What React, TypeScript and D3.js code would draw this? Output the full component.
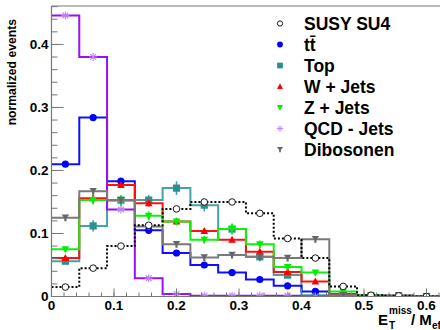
import * as d3 from 'd3';

// bin width of the histograms (18 bins on 0..0.8)
const binWidth = 0.8 / 18;

// normalized events per bin
const susyValues = [0.015, 0.045, 0.080, 0.113, 0.139, 0.150, 0.150, 0.132, 0.092, 0.061, 0.016, 0.002, 0.001, 0];
const ttbarValues = [0.210, 0.284, 0.183, 0.105, 0.069, 0.050, 0.038, 0.027, 0.017, 0.008, 0.003, 0.001, 0, 0];
const topValues = [0.056, 0.112, 0.153, 0.153, 0.172, 0.145, 0.107, 0.063, 0.034, 0.002, 0.001, 0, 0, 0];
const wJetsValues = [0.061, 0.156, 0.177, 0.148, 0.119, 0.104, 0.090, 0.071, 0.039, 0.024, 0.004, 0.001, 0, 0];
const zJetsValues = [0.075, 0.153, 0.152, 0.128, 0.119, 0.090, 0.107, 0.083, 0.047, 0.038, 0.008, 0.002, 0, 0];
const qcdValues = [0.446, 0.380, 0.138, 0.029, 0.004, 0.001, 0.001, 0.001, 0.001, 0, 0, 0, 0, 0];
const dibosonValues = [0.125, 0.167, 0.153, 0.111, 0.083, 0.062, 0.066, 0.063, 0.061, 0.091, 0.002, 0.001, 0.002, 0];

// statistical errors where they stick out of the markers
const topErrors = [0.004, 0.009, 0.008, 0.008, 0.011, 0.010, 0.009, 0.007, 0.005, 0.002, 0, 0, 0, 0];
const zJetsErrors = [0.004, 0.007, 0.009, 0.007, 0.006, 0.006, 0.008, 0.006, 0.005, 0.004, 0.002, 0.001, 0, 0];
const wJetsErrors = [0.003, 0.005, 0.005, 0.005, 0.005, 0.004, 0.004, 0.004, 0.003, 0.003, 0.001, 0, 0, 0];

const legendLabels = ['SUSY SU4', 'tt\u0304', 'Top', 'W + Jets', 'Z + Jets', 'QCD - Jets', 'Dibosonen'];
const yTickValues = [0, 0.1, 0.2, 0.3, 0.4];
const xTickValues = [0, 0.1, 0.2, 0.3, 0.4, 0.5, 0.6];

const FONT = '"Liberation Sans", Arial, Helvetica, sans-serif';

type Series = {
  label: string;
  values: number[];
  errors?: number[];
  line: string;
  marker: string;
  shape: string;
  dash?: string;
};

const series: Series[] = [
  { label: legendLabels[0], values: susyValues, line: '#000', marker: '#000', shape: 'open', dash: '2,2' },
  { label: legendLabels[1], values: ttbarValues, line: '#1010ff', marker: '#0000ff', shape: 'circle' },
  { label: legendLabels[2], values: topValues, errors: topErrors, line: '#45a3a5', marker: '#2f8f90', shape: 'square' },
  { label: legendLabels[3], values: wJetsValues, errors: wJetsErrors, line: '#ff1010', marker: '#ff0000', shape: 'up' },
  { label: legendLabels[4], values: zJetsValues, errors: zJetsErrors, line: '#10f010', marker: '#00ee00', shape: 'down' },
  { label: legendLabels[5], values: qcdValues, line: '#9a10f0', marker: '#c07cff', shape: 'star' },
  { label: legendLabels[6], values: dibosonValues, line: '#7a7a7a', marker: '#666', shape: 'funnel' },
];

// drawing order inside the frame
const drawOrder = [2, 1, 3, 4, 5, 6, 0];

const Marker = ({ shape, color, cx, cy, s = 1 }: { shape: string; color: string; cx: number; cy: number; s?: number }) => {
  const t = `translate(${cx},${cy}) scale(${s})`;
  if (shape === 'open') return <circle cx={cx} cy={cy} r={3.3 * s} fill="#fff" stroke="#000" strokeWidth={0.9} />;
  if (shape === 'circle') return <circle cx={cx} cy={cy} r={3.6 * s} fill={color} />;
  if (shape === 'square') return <rect x={cx - 3.6 * s} y={cy - 3.6 * s} width={7.2 * s} height={7.2 * s} fill={color} />;
  if (shape === 'up') return <path transform={t} d="M0,-4 L3.8,3 L-3.8,3 Z" fill={color} />;
  if (shape === 'down') return <path transform={t} d="M0,4 L3.8,-3 L-3.8,-3 Z" fill={color} />;
  if (shape === 'funnel') return <path transform={t} d="M-3.8,-3.2 L3.8,-3.2 L1.1,0.5 L1.1,3.5 L-1.1,3.5 L-1.1,0.5 Z" fill={color} />;
  // asterisk
  return (
    <g transform={t} stroke={color} strokeWidth={1.1}>
      <line x1={-4} y1={0} x2={4} y2={0} />
      <line x1={0} y1={-4} x2={0} y2={4} />
      <line x1={-2.9} y1={-2.9} x2={2.9} y2={2.9} />
      <line x1={-2.9} y1={2.9} x2={2.9} y2={-2.9} />
    </g>
  );
};

const App = () => {
  const width = 440;
  const height = 330;
  const left = 51.5;
  const top = 6;
  const bottom = 296.5;

  const x = d3.scaleLinear().domain([0, 0.63]).range([left, left + 625 * 0.63]);
  const y = d3.scaleLinear().domain([0, 0.461]).range([bottom, top]);

  const stepLine = d3.line<[number, number]>().x(d => x(d[0])).y(d => y(d[1]));

  const histPath = (values: number[]) => {
    const pts: [number, number][] = [];
    values.forEach((v, i) => {
      pts.push([i * binWidth, v]);
      pts.push([(i + 1) * binWidth, v]);
    });
    pts.push([values.length * binWidth, 0]);
    return stepLine(pts) || '';
  };

  const yMinor = d3.range(0, 0.461, 0.02);
  const xMinor = d3.range(0, 0.63, 0.02);

  const legendX = 280;
  const legendTextX = 304;
  const legendY0 = 23.5;
  const legendStep = 21;

  return (
    <div style={{ position: 'absolute', left: 0, top: 0 }}>
      <svg width={width} height={height} style={{ display: 'block', background: '#fff' }} fontFamily={FONT}>
        <defs>
          <clipPath id="frame">
            <rect x={left} y={top} width={width - left} height={bottom - top} />
          </clipPath>
        </defs>

        {/* histograms */}
        <g clipPath="url(#frame)">
          {drawOrder.map(k => {
            const s = series[k];
            return (
              <g key={s.label}>
                <path d={histPath(s.values)} fill="none" stroke={s.line} strokeWidth={2}
                  strokeDasharray={s.dash} />
                {s.errors && s.errors.map((e, i) => e > 0 && (
                  <line key={i} x1={x((i + 0.5) * binWidth)} x2={x((i + 0.5) * binWidth)}
                    y1={y(s.values[i] - e)} y2={y(s.values[i] + e)} stroke={s.line} strokeWidth={1.6} />
                ))}
                {s.values.map((v, i) => (
                  <Marker key={i} shape={s.shape} color={s.marker} cx={x((i + 0.5) * binWidth)} cy={y(v)} />
                ))}
              </g>
            );
          })}
        </g>

        {/* frame */}
        <line x1={left} x2={width} y1={top} y2={top} stroke="#777" strokeWidth={1.2} />
        <line x1={left} x2={left} y1={top} y2={bottom} stroke="#777" strokeWidth={1.2} />
        <line x1={left} x2={width} y1={bottom} y2={bottom} stroke="#777" strokeWidth={1.2} />

        {/* y ticks */}
        {yMinor.map((v, i) => (
          <line key={`ym${i}`} x1={left} x2={left + 6} y1={y(v)} y2={y(v)} stroke="#777" />
        ))}
        {yTickValues.map(v => (
          <g key={`y${v}`}>
            <line x1={left} x2={left + 12} y1={y(v)} y2={y(v)} stroke="#777" />
            <text x={left - 3} y={y(v) + 4.8} textAnchor="end" fontSize={13.5} fontWeight="bold">
              {v === 0 ? '0' : d3.format('.1f')(v)}
            </text>
          </g>
        ))}

        {/* x ticks */}
        {xMinor.map((v, i) => (
          <line key={`xm${i}`} x1={x(v)} x2={x(v)} y1={bottom} y2={bottom - 4} stroke="#777" />
        ))}
        {xTickValues.map(v => (
          <g key={`x${v}`}>
            <line x1={x(v)} x2={x(v)} y1={bottom} y2={bottom - 8} stroke="#777" />
            <text x={x(v)} y={bottom + 13.5} textAnchor="middle" fontSize={13.5} fontWeight="bold">
              {v === 0 ? '0' : d3.format('.1f')(v)}
            </text>
          </g>
        ))}

        {/* axis titles */}
        <text transform={`translate(16,19) rotate(-90)`} textAnchor="end" fontSize={12.2} fontWeight="bold">
          normalized events
        </text>
        <text x={378} y={325} fontSize={15} fontWeight="bold">E</text>
        <text x={389} y={314} fontSize={10} fontWeight="bold">miss</text>
        <text x={389} y={329} fontSize={10} fontWeight="bold">T</text>
        <text x={411} y={325} fontSize={15} fontWeight="bold">/ M</text>
        <text x={432} y={329} fontSize={10} fontWeight="bold">eff</text>

        {/* legend */}
        {series.map((s, i) => (
          <g key={`leg${i}`}>
            <Marker shape={s.shape} color={s.marker} cx={legendX} cy={legendY0 + i * legendStep} s={0.8} />
            <text x={legendTextX} y={legendY0 + i * legendStep + 6.3} fontSize={17.5} fontWeight="bold">
              {s.label}
            </text>
          </g>
        ))}
      </svg>
    </div>
  );
};

export default App;
